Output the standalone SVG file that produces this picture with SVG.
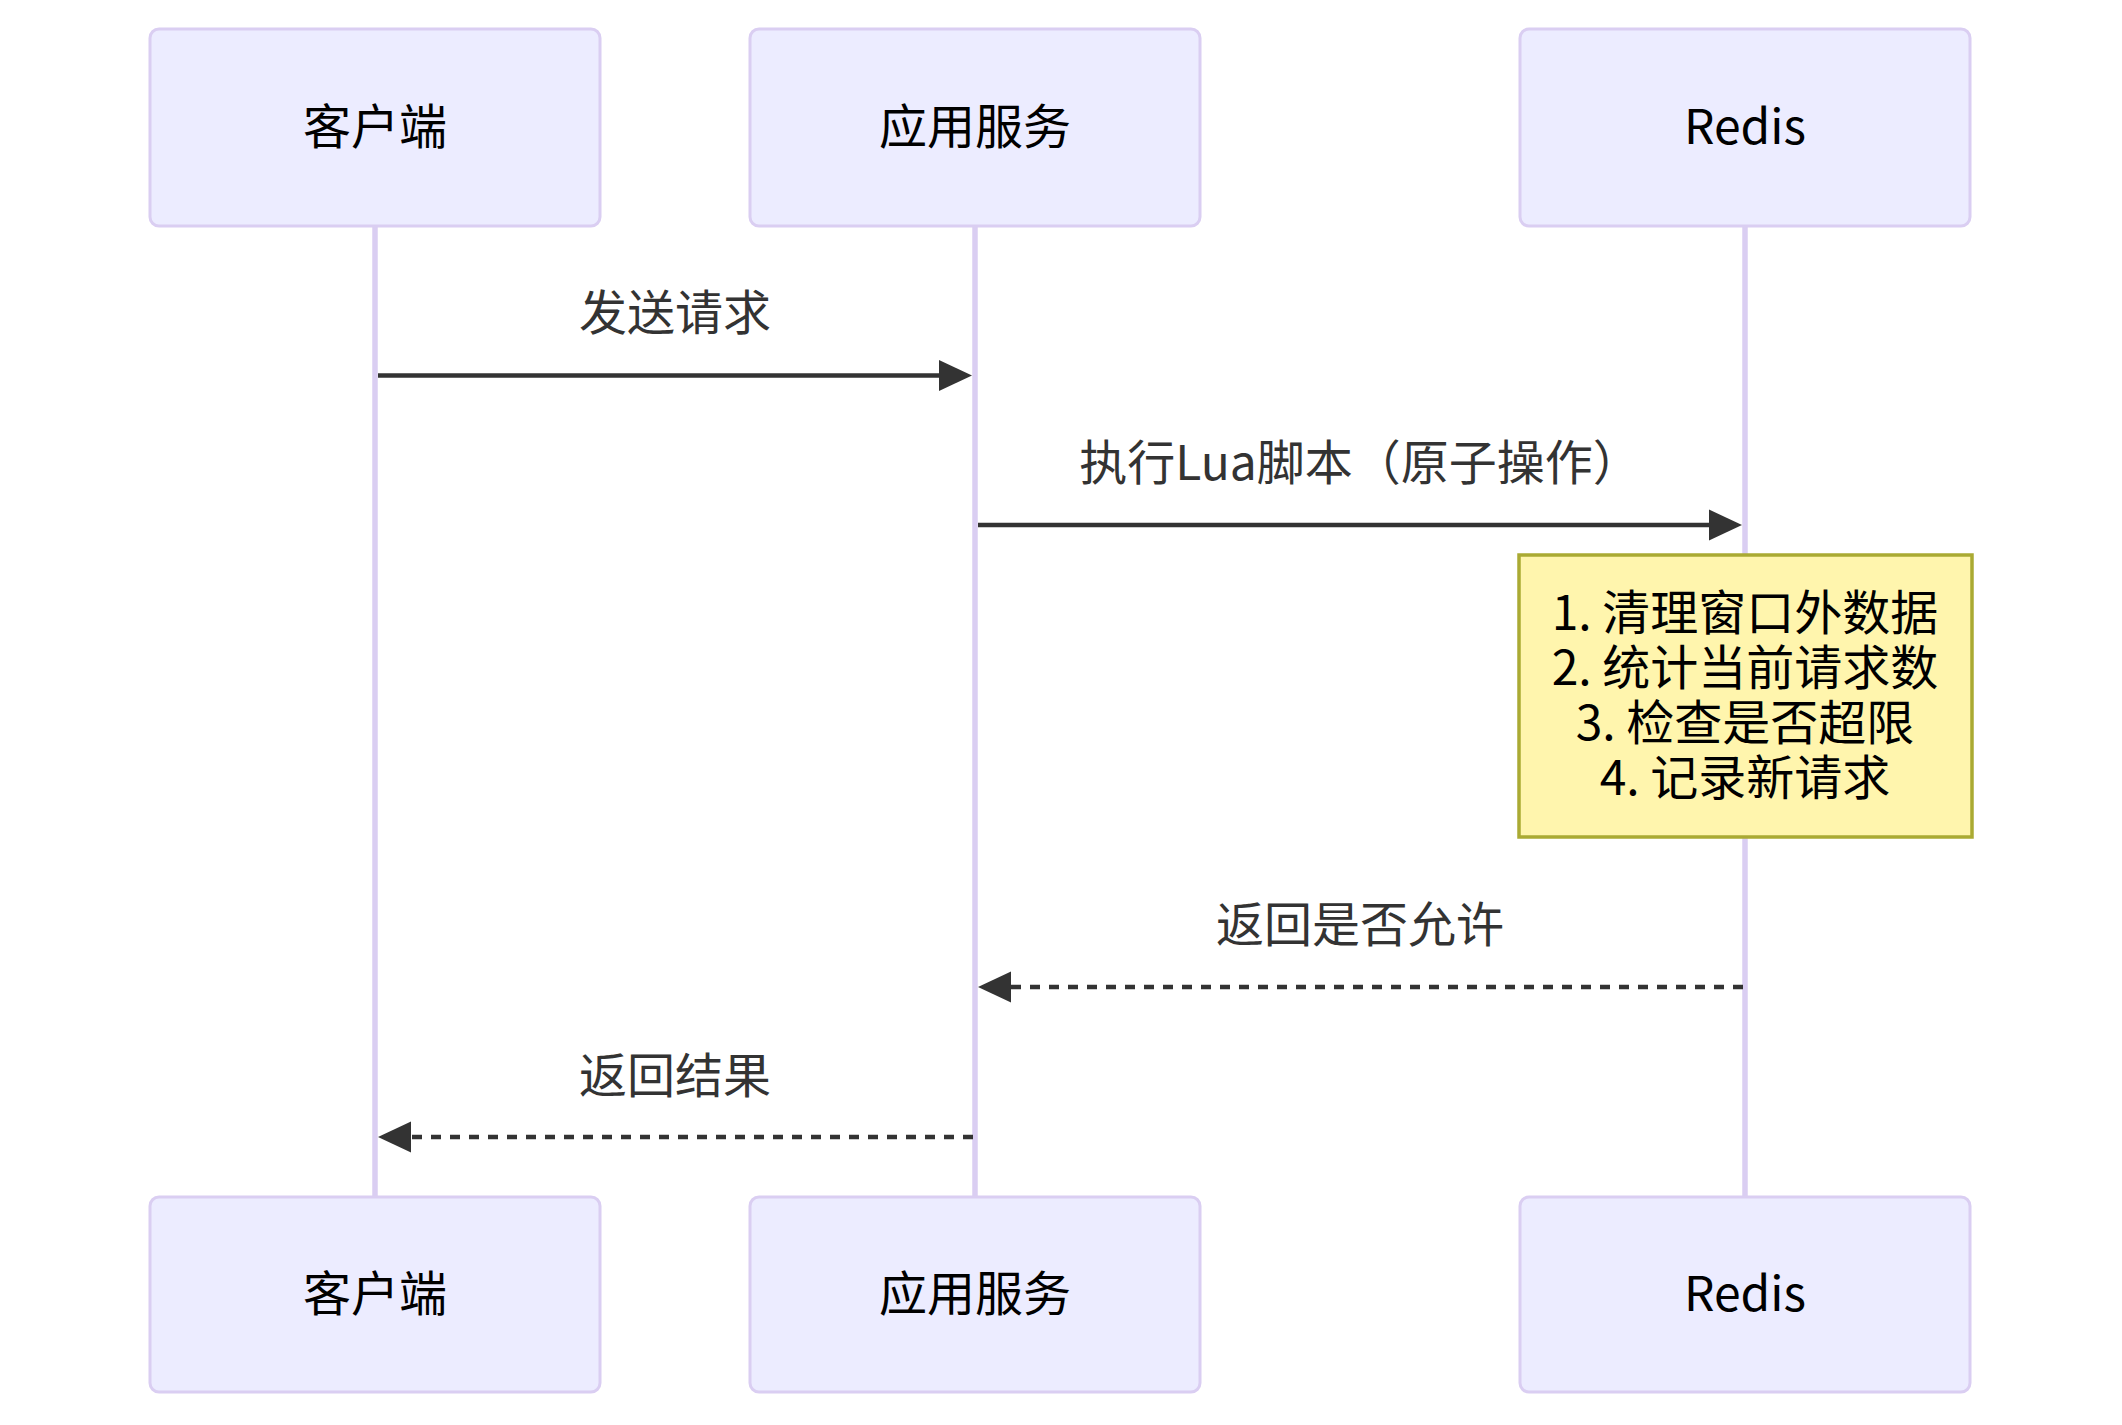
<svg xmlns="http://www.w3.org/2000/svg" width="2122" height="1425" viewBox="0 0 2122 1425">
<style>
.actor{fill:#ECECFF;stroke:#DACEF2;stroke-width:3}
.life{stroke:#DACEF2;stroke-width:5.5;fill:none}
.atext{font-family:"Noto Sans CJK SC","Noto Sans",sans-serif;font-size:48px;fill:#000;text-anchor:middle;dominant-baseline:central}
.mtext{font-family:"Noto Sans CJK SC","Noto Sans",sans-serif;font-size:48px;fill:#333;text-anchor:middle;dominant-baseline:central}
.msg{stroke:#333;stroke-width:4.5;fill:none}
.dot{stroke-dasharray:10 9}
.note{fill:#FFF5AD;stroke:#AAAA33;stroke-width:3.5}
.ntext{font-family:"Noto Sans CJK SC","Noto Sans",sans-serif;font-size:48px;fill:#000;text-anchor:middle;dominant-baseline:central}
</style>
<defs>
<marker id="arrow" markerUnits="userSpaceOnUse" markerWidth="34" markerHeight="32" viewBox="0 0 34 32" refX="13" refY="16" orient="auto">
<path d="M0,0.5 L33,16 L0,31.5 z" fill="#333"/>
</marker>
</defs>
<rect width="2122" height="1425" fill="#fff"/>
<g id="lifelines">
<line class="life" x1="375" y1="226" x2="375" y2="1197"/>
<line class="life" x1="975" y1="226" x2="975" y2="1197"/>
<line class="life" x1="1745" y1="226" x2="1745" y2="1197"/>
</g>
<g id="actor-client-top"><rect class="actor" x="150" y="29" width="450" height="197" rx="9"/><text class="atext" x="375" y="123">客户端</text></g>
<g id="actor-app-top"><rect class="actor" x="750" y="29" width="450" height="197" rx="9"/><text class="atext" x="975" y="123">应用服务</text></g>
<g id="actor-redis-top"><rect class="actor" x="1520" y="29" width="450" height="197" rx="9"/><text class="atext" x="1745" y="123">Redis</text></g>
<g id="actor-client-bottom"><rect class="actor" x="150" y="1197" width="450" height="195" rx="9"/><text class="atext" x="375" y="1290">客户端</text></g>
<g id="actor-app-bottom"><rect class="actor" x="750" y="1197" width="450" height="195" rx="9"/><text class="atext" x="975" y="1290">应用服务</text></g>
<g id="actor-redis-bottom"><rect class="actor" x="1520" y="1197" width="450" height="195" rx="9"/><text class="atext" x="1745" y="1290">Redis</text></g>
<g id="note">
<rect class="note" x="1519" y="555" width="453" height="282"/>
<text class="ntext" x="1745" y="609">1. 清理窗口外数据</text>
<text class="ntext" x="1745" y="664">2. 统计当前请求数</text>
<text class="ntext" x="1745" y="719">3. 检查是否超限</text>
<text class="ntext" x="1745" y="774">4. 记录新请求</text>
</g>
<g id="connectors">
<line class="msg" x1="378" y1="375.5" x2="952" y2="375.5" marker-end="url(#arrow)"/>
<text class="mtext" x="675" y="308.5">发送请求</text>
<line class="msg" x1="978" y1="525" x2="1722" y2="525" marker-end="url(#arrow)"/>
<text class="mtext" x="1360" y="458.5">执行Lua脚本（原子操作）</text>
<line class="msg dot" x1="1743" y1="987" x2="998" y2="987" marker-end="url(#arrow)"/>
<text class="mtext" x="1360" y="921">返回是否允许</text>
<line class="msg dot" x1="973" y1="1137" x2="398" y2="1137" marker-end="url(#arrow)"/>
<text class="mtext" x="675" y="1072">返回结果</text>
</g>
</svg>
